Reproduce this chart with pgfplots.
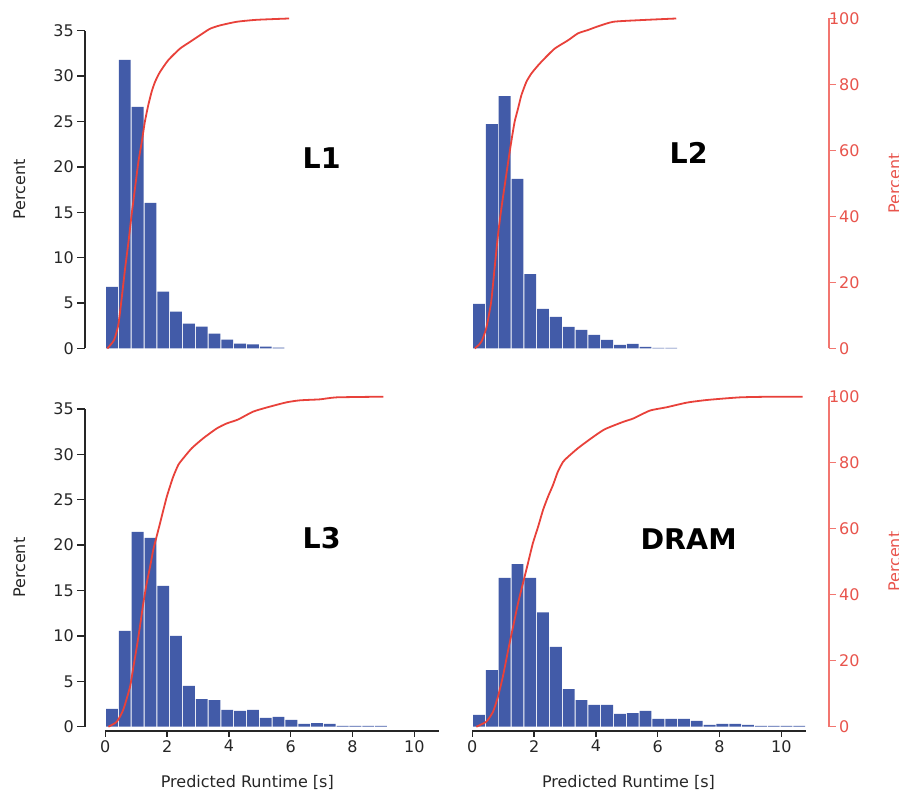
\documentclass[border=0pt]{standalone}
\usepackage{fontspec}
\setmainfont{DejaVu Sans}
\usepackage{pgfplots}
\pgfplotsset{compat=1.18}

\definecolor{barblue}{RGB}{66,91,168}
\definecolor{cdfred}{RGB}{232,65,58}
\definecolor{axred}{RGB}{242,118,112}
\definecolor{txtred}{RGB}{232,84,76}
\definecolor{axgray}{RGB}{38,38,38}

\newcommand{\fs}{\fontsize{16bp}{19bp}\selectfont}

\tikzset{ttl/.style={font=\fontsize{28.5bp}{32bp}\selectfont\bfseries, text=black, anchor=base}}

\pgfplotsset{
  base/.style={scale only axis, anchor=south west, clip=false,
    /pgf/number format/assume math mode=true,
    tick label style={font=\fs, text=axgray},
    label style={font=\fs, text=axgray},
    axis line style={-, line width=1.3bp, draw=axgray},
    tick style={line width=1.3bp, draw=axgray},
    tick align=outside},
  hist/.style={base, width=353.7bp, height=317.8bp,
    xmin=-0.657, xmax=10.79, ymin=0, ymax=35},
  histleft/.style={hist, axis x line=none, axis y line*=left,
    ytick={0,5,...,35}, major tick length=7.7bp,
    ylabel={Percent},
    ylabel style={at={(axis description cs:-0.168,0.5)}, anchor=south, inner sep=0pt}},
  histright/.style={hist, axis lines=none},
  cdf/.style={base, width=377bp, height=330bp,
    xmin=-0.657, xmax=11.544, ymin=0, ymax=100},
  cdfleft/.style={cdf, axis lines=none},
  cdfright/.style={cdf, axis x line=none, axis y line*=right,
    axis line style={-, line width=1.3bp, draw=axred},
    tick style={line width=1.3bp, draw=axred},
    tick label style={font=\fs, text=txtred},
    major tick length=6.7bp,
    ytick={0,20,40,60,80,100},
    yticklabels={0,20,40,60,80,\phantom{80}\llap{100}},
    ylabel={Percent},
    ylabel style={font=\fs, text=txtred, at={(axis description cs:1.157,0.5)}, anchor=north, inner sep=0pt}},
  xspine/.style={base, width=333.4bp, height=5bp,
    xmin=0, xmax=10.79, ymin=0, ymax=1,
    axis y line=none, axis x line*=bottom,
    xtick={0,2,...,10}, major tick length=5.8bp,
    xlabel={Predicted Runtime [s]}},
  xlab/.style={xlabel style={at={(axis description cs:#1,0)}, anchor=base, yshift=-56.3bp}},
  histbars/.style={ybar, bar width=0.383, bar shift=0, fill=barblue, draw=none},
  cdfline/.style={cdfred, line width=1.8bp, no marks, smooth, tension=0.35}
}

% ---------------- histogram data (bin centre, percent); bin width 0.4146 ----------------
\pgfplotstableread{
x y
0.217 6.80
0.632 31.80
1.046 26.60
1.461 16.05
1.875 6.25
2.290 4.05
2.705 2.75
3.119 2.40
3.534 1.65
3.948 0.98
4.363 0.55
4.778 0.45
5.192 0.20
5.607 0.10
}\histLone
\pgfplotstableread{
x y
0.217 4.92
0.632 24.70
1.046 27.80
1.461 18.67
1.875 8.20
2.290 4.37
2.705 3.49
3.119 2.39
3.534 2.06
3.948 1.50
4.363 0.96
4.778 0.41
5.192 0.52
5.607 0.19
6.021 0.08
6.436 0.08
}\histLtwo
\pgfplotstableread{
x y
0.217 1.95
0.632 10.55
1.046 21.45
1.461 20.80
1.875 15.50
2.290 10.00
2.705 4.50
3.119 3.05
3.534 2.94
3.948 1.84
4.363 1.73
4.778 1.84
5.192 0.96
5.607 1.07
6.021 0.74
6.436 0.30
6.851 0.40
7.265 0.30
7.680 0.08
8.094 0.08
8.509 0.08
8.924 0.08
}\histLthree
\pgfplotstableread{
x y
0.217 1.29
0.632 6.24
1.046 16.40
1.461 17.90
1.875 16.40
2.290 12.60
2.705 8.80
3.119 4.15
3.534 2.94
3.948 2.39
4.363 2.39
4.778 1.40
5.192 1.50
5.607 1.73
6.021 0.85
6.436 0.85
6.851 0.85
7.265 0.63
7.680 0.19
8.094 0.30
8.509 0.30
8.924 0.19
9.338 0.08
9.753 0.08
10.167 0.08
10.582 0.08
}\histDRAM

% ---------------- cumulative curves (runtime, cumulative percent) ----------------
\pgfplotstableread{
x y
0.065 0
0.28 2.5
0.42 7.1
0.53 15.2
0.64 24.2
0.75 32.3
0.85 40.4
0.96 48.5
1.07 56.5
1.18 62.6
1.28 68.7
1.39 73.7
1.50 77.8
1.61 80.8
1.77 83.8
2.04 87.4
2.42 90.9
2.74 92.9
3.06 94.9
3.39 96.9
3.71 97.9
4.25 99.0
4.90 99.6
5.95 100
}\cdfLone
\pgfplotstableread{
x y
0.08 0
0.29 2.0
0.45 6.1
0.61 14.1
0.72 24.2
0.83 34.3
0.94 42.4
1.05 49.5
1.16 56.5
1.26 62.6
1.37 68.7
1.48 72.7
1.59 76.8
1.75 80.8
1.91 83.3
2.13 85.8
2.34 87.9
2.67 90.9
3.10 93.4
3.42 95.5
3.74 96.5
4.03 97.5
4.56 99.0
5.43 99.5
6.60 100
}\cdfLtwo
\pgfplotstableread{
x y
0.10 0
0.37 1.5
0.58 5.1
0.80 12.1
0.91 18.2
1.02 24.2
1.12 30.3
1.23 37.4
1.34 43.5
1.45 48.5
1.55 53.5
1.66 57.6
1.77 61.6
1.88 65.7
1.99 69.7
2.09 72.7
2.20 75.8
2.36 79.3
2.52 81.3
2.80 84.4
3.17 87.4
3.61 90.4
3.93 91.9
4.30 93.1
4.79 95.5
5.33 97.0
5.87 98.3
6.30 98.9
6.95 99.2
7.49 99.8
9.00 100
}\cdfLthree
\pgfplotstableread{
x y
0.13 0
0.45 1.5
0.67 4.5
0.83 9.1
0.99 15.2
1.16 23.2
1.32 30.3
1.48 37.4
1.64 43.5
1.80 49.5
1.96 55.6
2.13 60.6
2.29 65.7
2.45 69.7
2.61 73.2
2.77 77.3
2.94 80.3
3.10 81.8
3.42 84.4
3.85 87.4
4.28 90.1
4.89 92.4
5.21 93.4
5.75 95.8
6.29 96.8
6.94 98.2
7.59 99.0
8.66 99.8
9.74 100
10.69 100
}\cdfDRAM

\begin{document}
\begin{tikzpicture}
\useasboundingbox (0,0) rectangle (899bp,791bp);

% ================= top left: L1 =================
\begin{axis}[histleft, at={(85bp,442.5bp)}]
  \addplot[histbars] table[x=x,y=y] {\histLone};
  \node[ttl] at (axis cs:7,19.85) {L1};
\end{axis}
\begin{axis}[cdfleft, at={(85bp,442.5bp)}]
  \addplot[cdfline] table[x=x,y=y] {\cdfLone};
\end{axis}

% ================= top right: L2 =================
\begin{axis}[histright, at={(452bp,442.5bp)}]
  \addplot[histbars] table[x=x,y=y] {\histLtwo};
  \node[ttl] at (axis cs:7,20.4) {L2};
\end{axis}
\begin{axis}[cdfright, at={(452bp,442.5bp)}]
  \addplot[cdfline] table[x=x,y=y] {\cdfLtwo};
\end{axis}

% ================= bottom left: L3 =================
\begin{axis}[histleft, at={(85bp,64.3bp)}]
  \addplot[histbars] table[x=x,y=y] {\histLthree};
  \node[ttl] at (axis cs:7,19.65) {L3};
\end{axis}
\begin{axis}[cdfleft, at={(85bp,64.3bp)}]
  \addplot[cdfline] table[x=x,y=y] {\cdfLthree};
\end{axis}
\begin{axis}[xspine, xlab=0.426, at={(105.3bp,60bp)}]
\end{axis}

% ================= bottom right: DRAM =================
\begin{axis}[histright, at={(452bp,64.3bp)}]
  \addplot[histbars] table[x=x,y=y] {\histDRAM};
  \node[ttl] at (axis cs:7,19.54) {DRAM};
\end{axis}
\begin{axis}[cdfright, at={(452bp,64.3bp)}]
  \addplot[cdfline] table[x=x,y=y] {\cdfDRAM};
\end{axis}
\begin{axis}[xspine, xlab=0.4685, at={(472.3bp,60bp)}]
\end{axis}

\end{tikzpicture}
\end{document}
